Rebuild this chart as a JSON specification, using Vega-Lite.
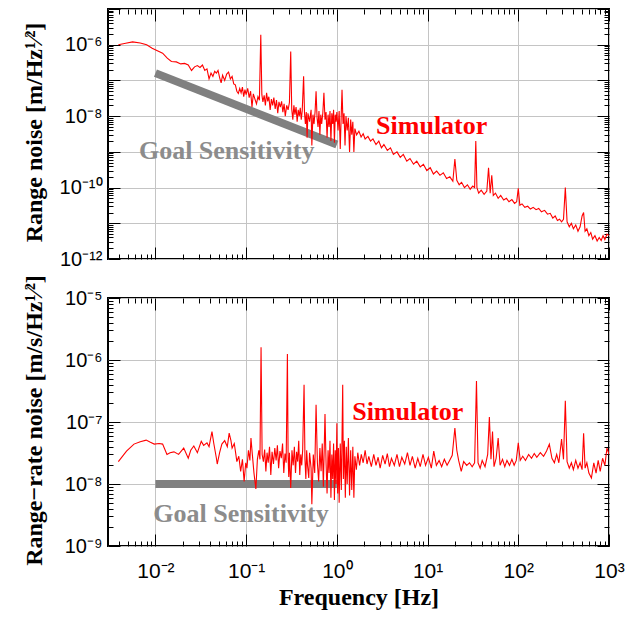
{
  "$schema": "https://vega.github.io/schema/vega-lite/v6.json",
  "padding": {"left": 20, "top": -2, "right": 20, "bottom": 5},
  "background": "white",
  "bounds": "flush",
  "spacing": 39,
  "config": {
    "view": {"stroke": "black", "strokeWidth": 2},
    "axis": {
      "domain": false,
      "tickColor": "black",
      "tickWidth": 1,
      "gridColor": "#c4c4c4",
      "gridWidth": 1,
      "labelFont": "Liberation Sans",
      "labelFontSize": 20,
      "labelColor": "black",
      "labelOverlap": false,
      "labelBound": false,
      "labelFlush": false,
      "titleFont": "Liberation Serif",
      "titleFontWeight": "bold",
      "titleFontSize": 24,
      "titleColor": "black"
    }
  },
  "datasets": {
    "simTop": [
      {"f":0.0039,"v":1.0e-6},{"f":0.0047,"v":1.1e-6},{"f":0.0056,"v":1.2e-6},{"f":0.0068,"v":1.12e-6},{"f":0.008,"v":1.0e-6},{"f":0.0092,"v":8e-7},{"f":0.0105,"v":6.8e-7},{"f":0.012,"v":5.8e-7},{"f":0.0135,"v":4.2e-7},{"f":0.015,"v":3.4e-7},{"f":0.017,"v":3.3e-7},{"f":0.019,"v":2.9e-7},{"f":0.021,"v":3.0e-7},{"f":0.023,"v":2.7e-7},{"f":0.025,"v":1.9e-7},{"f":0.027,"v":2.4e-7},{"f":0.029,"v":2.6e-7},{"f":0.031,"v":2.3e-7},{"f":0.033,"v":2.7e-7},{"f":0.035,"v":1.9e-7},{"f":0.037,"v":2.1e-7},{"f":0.039,"v":1.1e-7},{"f":0.041,"v":1.6e-7},{"f":0.043,"v":1.3e-7},{"f":0.045,"v":1.8e-7},{"f":0.047,"v":1.6e-7},{"f":0.049,"v":1.9e-7},{"f":0.051,"v":1.2e-7},{"f":0.053,"v":8.5e-8},{"f":0.055,"v":1.4e-7},{"f":0.058,"v":1.0e-7},{"f":0.061,"v":1.5e-7},{"f":0.064,"v":1.7e-7},{"f":0.067,"v":1.1e-7},{"f":0.07,"v":1.3e-7},{"f":0.073,"v":8e-8},{"f":0.076,"v":7.5e-8},{"f":0.079,"v":5e-8},{"f":0.082,"v":4.3e-8},{"f":0.085,"v":6e-8},{"f":0.088,"v":4.5e-8},{"f":0.091,"v":6.5e-8},{"f":0.094,"v":3.5e-8},{"f":0.097,"v":5.5e-8},{"f":0.1,"v":4e-8},{"f":0.104,"v":6e-8},{"f":0.108,"v":3.3e-8},{"f":0.112,"v":5e-8},{"f":0.116,"v":1.8e-8},{"f":0.12,"v":4.2e-8},{"f":0.125,"v":3e-8},{"f":0.13,"v":2.2e-8},{"f":0.135,"v":3.5e-8},{"f":0.14,"v":2.8e-8},{"f":0.145,"v":1.9e-6},{"f":0.149,"v":4e-8},{"f":0.153,"v":2.5e-8},{"f":0.158,"v":3.8e-8},{"f":0.163,"v":2.0e-8},{"f":0.168,"v":4.5e-8},{"f":0.173,"v":2.6e-8},{"f":0.178,"v":3.5e-8},{"f":0.184,"v":1.5e-8},{"f":0.19,"v":3e-8},{"f":0.196,"v":2e-8},{"f":0.202,"v":3.3e-8},{"f":0.209,"v":1.6e-8},{"f":0.216,"v":2.8e-8},{"f":0.223,"v":1.2e-8},{"f":0.23,"v":2.5e-8},{"f":0.238,"v":1.8e-8},{"f":0.246,"v":2.6e-8},{"f":0.254,"v":1.3e-8},{"f":0.262,"v":2.2e-8},{"f":0.27,"v":1e-8},{"f":0.28,"v":2e-8},{"f":0.29,"v":1.5e-8},{"f":0.3,"v":2.4e-8},{"f":0.31,"v":6.5e-7},{"f":0.318,"v":1.6e-8},{"f":0.327,"v":8e-9},{"f":0.336,"v":2e-8},{"f":0.345,"v":1.1e-8},{"f":0.355,"v":1.8e-8},{"f":0.365,"v":7e-9},{"f":0.375,"v":1.5e-8},{"f":0.385,"v":1e-8},{"f":0.395,"v":1.7e-8},{"f":0.405,"v":8e-9},{"f":0.415,"v":1.4e-8},{"f":0.43,"v":1.3e-7},{"f":0.44,"v":1.2e-8},{"f":0.45,"v":6e-9},{"f":0.46,"v":1.3e-8},{"f":0.47,"v":2.5e-9},{"f":0.48,"v":1.2e-8},{"f":0.5,"v":7e-9},{"f":0.52,"v":1.5e-8},{"f":0.53,"v":1.5e-9},{"f":0.545,"v":1.1e-8},{"f":0.56,"v":6e-9},{"f":0.575,"v":1.3e-8},{"f":0.59,"v":5e-8},{"f":0.605,"v":9e-9},{"f":0.62,"v":5e-9},{"f":0.635,"v":1.4e-8},{"f":0.65,"v":3e-9},{"f":0.665,"v":1.1e-8},{"f":0.68,"v":6e-9},{"f":0.7,"v":1.2e-8},{"f":0.72,"v":4.5e-8},{"f":0.74,"v":8e-9},{"f":0.76,"v":1.3e-8},{"f":0.78,"v":2.5e-9},{"f":0.8,"v":1.1e-8},{"f":0.82,"v":5e-9},{"f":0.84,"v":1.4e-8},{"f":0.86,"v":2e-9},{"f":0.88,"v":1.2e-8},{"f":0.9,"v":6e-9},{"f":0.92,"v":1.5e-8},{"f":0.94,"v":1.8e-9},{"f":0.96,"v":1.1e-8},{"f":0.98,"v":7e-9},{"f":1.0,"v":1.3e-8},{"f":1.03,"v":4e-9},{"f":1.06,"v":1.4e-8},{"f":1.09,"v":1.2e-9},{"f":1.12,"v":1.3e-8},{"f":1.14,"v":5.5e-8},{"f":1.17,"v":6e-9},{"f":1.2,"v":1.2e-8},{"f":1.23,"v":1.5e-9},{"f":1.26,"v":1.0e-8},{"f":1.3,"v":4e-9},{"f":1.34,"v":9e-9},{"f":1.38,"v":1e-9},{"f":1.42,"v":8e-9},{"f":1.46,"v":3e-9},{"f":1.5,"v":7e-9},{"f":1.54,"v":1.0e-9},{"f":1.58,"v":4.5e-9},{"f":1.65,"v":3e-9},{"f":1.75,"v":3.8e-9},{"f":1.85,"v":2.6e-9},{"f":1.95,"v":3.2e-9},{"f":2.05,"v":2.3e-9},{"f":2.2,"v":2.7e-9},{"f":2.35,"v":2e-9},{"f":2.5,"v":2.3e-9},{"f":2.7,"v":1.6e-9},{"f":2.9,"v":2e-9},{"f":3.1,"v":1.3e-9},{"f":3.3,"v":1.6e-9},{"f":3.6,"v":1.1e-9},{"f":3.9,"v":1.3e-9},{"f":4.2,"v":8.5e-10},{"f":4.6,"v":1.0e-9},{"f":5.0,"v":7e-10},{"f":5.4,"v":8.5e-10},{"f":5.9,"v":5.5e-10},{"f":6.4,"v":6.5e-10},{"f":7.0,"v":4.5e-10},{"f":7.6,"v":5.5e-10},{"f":8.3,"v":3.8e-10},{"f":9.0,"v":4.5e-10},{"f":9.8,"v":3e-10},{"f":10.7,"v":3.6e-10},{"f":11.6,"v":2.4e-10},{"f":12.6,"v":2.9e-10},{"f":13.7,"v":2.2e-10},{"f":14.9,"v":2.6e-10},{"f":16.2,"v":1.8e-10},{"f":17.6,"v":2e-10},{"f":19.0,"v":1.5e-10},{"f":20.0,"v":6.3e-10},{"f":21.0,"v":1.6e-10},{"f":22.3,"v":1.2e-10},{"f":23.7,"v":1.4e-10},{"f":25.5,"v":1.0e-10},{"f":27.5,"v":1.2e-10},{"f":29.5,"v":9e-11},{"f":31.5,"v":1.1e-10},{"f":33,"v":1.0e-10},{"f":34,"v":2e-9},{"f":35,"v":1.0e-10},{"f":36.6,"v":7e-11},{"f":39,"v":8.5e-11},{"f":42,"v":6.5e-11},{"f":45,"v":8e-11},{"f":47,"v":3.6e-10},{"f":49,"v":7e-11},{"f":51,"v":2.2e-10},{"f":53,"v":6e-11},{"f":56,"v":7e-11},{"f":60,"v":5e-11},{"f":64,"v":6e-11},{"f":69,"v":4.5e-11},{"f":74,"v":5e-11},{"f":79,"v":4e-11},{"f":85,"v":4.6e-11},{"f":91,"v":3.6e-11},{"f":96,"v":4e-11},{"f":100,"v":9.5e-11},{"f":104,"v":3.2e-11},{"f":110,"v":3.5e-11},{"f":118,"v":2.8e-11},{"f":127,"v":3e-11},{"f":136,"v":2.5e-11},{"f":146,"v":2.8e-11},{"f":157,"v":2.4e-11},{"f":168,"v":2.6e-11},{"f":180,"v":2.1e-11},{"f":195,"v":2.3e-11},{"f":210,"v":1.8e-11},{"f":225,"v":1.9e-11},{"f":240,"v":1.4e-11},{"f":255,"v":1.6e-11},{"f":270,"v":1.2e-11},{"f":285,"v":1.3e-11},{"f":300,"v":1.1e-11},{"f":315,"v":1.3e-11},{"f":330,"v":1e-10},{"f":345,"v":1.1e-11},{"f":365,"v":8e-12},{"f":385,"v":1e-11},{"f":405,"v":7e-12},{"f":430,"v":9e-12},{"f":455,"v":6e-12},{"f":480,"v":8e-12},{"f":505,"v":1.6e-11},{"f":525,"v":2e-11},{"f":545,"v":6e-12},{"f":570,"v":7e-12},{"f":600,"v":4.5e-12},{"f":630,"v":5.5e-12},{"f":660,"v":3.6e-12},{"f":700,"v":4.5e-12},{"f":740,"v":3.2e-12},{"f":780,"v":4e-12},{"f":820,"v":3.3e-12},{"f":860,"v":4.5e-12},{"f":900,"v":3.5e-12},{"f":950,"v":5e-12},{"f":1000,"v":4.5e-12}
    ],
    "simBot": [
      {"f":0.0039,"v":2.3e-8},{"f":0.0048,"v":3.4e-8},{"f":0.0058,"v":4.4e-8},{"f":0.0068,"v":4.8e-8},{"f":0.0079,"v":5.1e-8},{"f":0.0088,"v":4.7e-8},{"f":0.0097,"v":4.4e-8},{"f":0.011,"v":4.5e-8},{"f":0.012,"v":4.4e-8},{"f":0.0134,"v":3.0e-8},{"f":0.0145,"v":3.2e-8},{"f":0.016,"v":3.3e-8},{"f":0.018,"v":3.0e-8},{"f":0.0205,"v":3.8e-8},{"f":0.023,"v":2.6e-8},{"f":0.0245,"v":3.5e-8},{"f":0.0265,"v":4.1e-8},{"f":0.029,"v":3.2e-8},{"f":0.032,"v":4.9e-8},{"f":0.034,"v":4.2e-8},{"f":0.037,"v":4.6e-8},{"f":0.039,"v":4.0e-8},{"f":0.042,"v":7e-8},{"f":0.044,"v":4.5e-8},{"f":0.047,"v":2.6e-8},{"f":0.048,"v":2.1e-8},{"f":0.051,"v":3.2e-8},{"f":0.054,"v":4.4e-8},{"f":0.058,"v":5e-8},{"f":0.062,"v":4e-8},{"f":0.065,"v":6.6e-8},{"f":0.068,"v":5e-8},{"f":0.07,"v":3.8e-8},{"f":0.074,"v":4.5e-8},{"f":0.077,"v":3e-8},{"f":0.079,"v":2.3e-8},{"f":0.083,"v":2.8e-8},{"f":0.087,"v":1.6e-8},{"f":0.091,"v":2.5e-8},{"f":0.095,"v":1.1e-8},{"f":0.099,"v":2.2e-8},{"f":0.102,"v":1.8e-8},{"f":0.106,"v":3.5e-8},{"f":0.11,"v":2.4e-8},{"f":0.113,"v":5.5e-8},{"f":0.117,"v":3e-8},{"f":0.122,"v":1.5e-8},{"f":0.128,"v":8.3e-9},{"f":0.133,"v":2.5e-8},{"f":0.138,"v":3.5e-8},{"f":0.142,"v":2.5e-8},{"f":0.146,"v":1.6e-6},{"f":0.15,"v":3e-8},{"f":0.155,"v":2.3e-8},{"f":0.16,"v":3.6e-8},{"f":0.165,"v":1.6e-8},{"f":0.17,"v":3.2e-8},{"f":0.175,"v":2.2e-8},{"f":0.181,"v":4e-8},{"f":0.187,"v":1.4e-8},{"f":0.193,"v":3.3e-8},{"f":0.2,"v":2.1e-8},{"f":0.207,"v":3.8e-8},{"f":0.214,"v":2.4e-8},{"f":0.221,"v":4.2e-8},{"f":0.228,"v":1.8e-8},{"f":0.236,"v":3.4e-8},{"f":0.244,"v":2.6e-8},{"f":0.252,"v":4.5e-8},{"f":0.26,"v":1.5e-8},{"f":0.268,"v":3.1e-8},{"f":0.276,"v":2.2e-8},{"f":0.285,"v":1.25e-6},{"f":0.29,"v":2.8e-8},{"f":0.295,"v":1.3e-8},{"f":0.3,"v":3.2e-8},{"f":0.31,"v":8.6e-9},{"f":0.32,"v":3.5e-8},{"f":0.33,"v":2e-8},{"f":0.34,"v":4e-8},{"f":0.35,"v":1.5e-8},{"f":0.36,"v":3.3e-8},{"f":0.37,"v":2.3e-8},{"f":0.38,"v":5e-8},{"f":0.39,"v":1.4e-8},{"f":0.4,"v":3e-8},{"f":0.41,"v":2e-8},{"f":0.42,"v":3.6e-8},{"f":0.435,"v":4e-7},{"f":0.445,"v":2.5e-8},{"f":0.455,"v":1.2e-8},{"f":0.465,"v":3.5e-8},{"f":0.475,"v":2e-8},{"f":0.49,"v":1.25e-8},{"f":0.5,"v":3.2e-8},{"f":0.52,"v":1.8e-8},{"f":0.53,"v":4.7e-9},{"f":0.55,"v":3e-8},{"f":0.57,"v":1.5e-8},{"f":0.59,"v":1.9e-7},{"f":0.61,"v":2.2e-8},{"f":0.63,"v":1.1e-8},{"f":0.65,"v":3.8e-8},{"f":0.67,"v":1.6e-8},{"f":0.69,"v":4.5e-8},{"f":0.71,"v":9e-9},{"f":0.74,"v":1.35e-7},{"f":0.76,"v":2.2e-8},{"f":0.78,"v":7e-9},{"f":0.8,"v":3.5e-8},{"f":0.82,"v":1.5e-8},{"f":0.84,"v":5e-8},{"f":0.86,"v":6e-9},{"f":0.88,"v":3e-8},{"f":0.9,"v":1.2e-8},{"f":0.92,"v":4.5e-8},{"f":0.94,"v":5.5e-9},{"f":0.96,"v":3.5e-8},{"f":0.98,"v":1e-8},{"f":1.0,"v":9.5e-8},{"f":1.02,"v":7e-9},{"f":1.04,"v":3.8e-8},{"f":1.06,"v":5e-9},{"f":1.09,"v":4.5e-8},{"f":1.12,"v":8e-9},{"f":1.16,"v":4e-7},{"f":1.18,"v":1.2e-8},{"f":1.21,"v":5e-8},{"f":1.24,"v":6e-9},{"f":1.27,"v":4e-8},{"f":1.3,"v":1e-8},{"f":1.34,"v":5.5e-8},{"f":1.38,"v":6.5e-9},{"f":1.42,"v":3.5e-8},{"f":1.46,"v":8e-9},{"f":1.5,"v":4e-8},{"f":1.54,"v":6e-9},{"f":1.58,"v":2.8e-8},{"f":1.64,"v":1.7e-8},{"f":1.7,"v":3.2e-8},{"f":1.78,"v":2e-8},{"f":1.86,"v":3e-8},{"f":1.95,"v":2.2e-8},{"f":2.05,"v":3.5e-8},{"f":2.15,"v":2.1e-8},{"f":2.25,"v":2.8e-8},{"f":2.4,"v":1.9e-8},{"f":2.55,"v":3e-8},{"f":2.7,"v":2e-8},{"f":2.85,"v":2.7e-8},{"f":3.0,"v":1.8e-8},{"f":3.2,"v":2.9e-8},{"f":3.4,"v":2.1e-8},{"f":3.6,"v":3.1e-8},{"f":3.8,"v":1.9e-8},{"f":4.0,"v":2.6e-8},{"f":4.3,"v":2e-8},{"f":4.6,"v":3e-8},{"f":4.9,"v":1.9e-8},{"f":5.2,"v":2.7e-8},{"f":5.6,"v":2.1e-8},{"f":6.0,"v":3.2e-8},{"f":6.4,"v":2e-8},{"f":6.8,"v":2.8e-8},{"f":7.3,"v":1.8e-8},{"f":7.8,"v":2.6e-8},{"f":8.3,"v":1.9e-8},{"f":8.9,"v":3e-8},{"f":9.5,"v":2e-8},{"f":10.2,"v":2.7e-8},{"f":11.0,"v":1.8e-8},{"f":11.7,"v":3.4e-8},{"f":12.5,"v":2e-8},{"f":13.4,"v":2.4e-8},{"f":14.3,"v":1.9e-8},{"f":15.3,"v":2.5e-8},{"f":16.4,"v":2.0e-8},{"f":17.5,"v":2.4e-8},{"f":18.7,"v":2.9e-8},{"f":20,"v":8e-8},{"f":21,"v":3.5e-8},{"f":22,"v":2.4e-8},{"f":23.5,"v":1.6e-8},{"f":25,"v":2.3e-8},{"f":27,"v":2e-8},{"f":29,"v":2.2e-8},{"f":31,"v":1.9e-8},{"f":33,"v":2.2e-8},{"f":34.6,"v":4.6e-7},{"f":36,"v":2.2e-8},{"f":38,"v":1.8e-8},{"f":40,"v":2.4e-8},{"f":43,"v":1.9e-8},{"f":46,"v":3e-8},{"f":48,"v":1.2e-7},{"f":50,"v":2.5e-8},{"f":52,"v":7e-8},{"f":54,"v":1.9e-8},{"f":57,"v":2.6e-8},{"f":60,"v":5.5e-8},{"f":63,"v":2e-8},{"f":67,"v":2.5e-8},{"f":71,"v":1.9e-8},{"f":75,"v":2.4e-8},{"f":80,"v":2e-8},{"f":85,"v":2.5e-8},{"f":90,"v":2e-8},{"f":95,"v":2.4e-8},{"f":100,"v":4.6e-8},{"f":105,"v":2.4e-8},{"f":112,"v":2.8e-8},{"f":120,"v":2.4e-8},{"f":130,"v":3e-8},{"f":140,"v":2.6e-8},{"f":150,"v":3.1e-8},{"f":160,"v":2.7e-8},{"f":175,"v":3.2e-8},{"f":190,"v":2.8e-8},{"f":205,"v":3.4e-8},{"f":220,"v":4.4e-8},{"f":235,"v":2.6e-8},{"f":250,"v":2.2e-8},{"f":265,"v":3e-8},{"f":280,"v":2.2e-8},{"f":300,"v":5.3e-8},{"f":315,"v":2.5e-8},{"f":330,"v":2.2e-7},{"f":345,"v":2.3e-8},{"f":365,"v":1.8e-8},{"f":385,"v":2.2e-8},{"f":405,"v":1.7e-8},{"f":430,"v":2.4e-8},{"f":455,"v":1.8e-8},{"f":480,"v":2.2e-8},{"f":505,"v":1.7e-8},{"f":525,"v":6.6e-8},{"f":545,"v":1.8e-8},{"f":570,"v":2.2e-8},{"f":600,"v":1.5e-8},{"f":640,"v":1.25e-8},{"f":680,"v":2.2e-8},{"f":720,"v":1.5e-8},{"f":760,"v":2.4e-8},{"f":800,"v":1.6e-8},{"f":850,"v":2.6e-8},{"f":900,"v":2e-8},{"f":950,"v":3.8e-8},{"f":1000,"v":3e-8}
    ]
  },
  "vconcat": [
    {
      "width": 501,
      "height": 250,
      "layer": [
        {
          "data": {"values": [{"f": 0.01, "v": 1.6e-7}, {"f": 1, "v": 1.6e-9}]},
          "mark": {"type": "line", "color": "#808080", "strokeWidth": 8, "strokeCap": "butt", "clip": true},
          "encoding": {
            "x": {"field": "f", "type": "quantitative", "scale": {"type": "log", "domain": [0.003, 1000], "nice": false},
              "axis": {"orient": "top", "values": [0.01, 0.1, 1, 10, 100, 1000], "tickSize": -12, "labels": false, "grid": false, "title": null}},
            "y": {"field": "v", "type": "quantitative", "scale": {"type": "log", "domain": [1e-12, 1e-5], "nice": false},
              "axis": {"orient": "right", "values": [1e-12, 1e-11, 1e-10, 1e-9, 1e-8, 1e-7, 1e-6, 1e-5], "tickSize": -12, "labels": false, "grid": false, "title": null}}
          }
        },
        {
          "data": {"name": "simTop"},
          "mark": {"type": "line", "color": "#ff0000", "strokeWidth": 1.1, "clip": true},
          "encoding": {
            "x": {"field": "f", "type": "quantitative", "scale": {"type": "log", "domain": [0.003, 1000], "nice": false},
              "axis": {"orient": "bottom", "values": [0.01, 0.1, 1, 10, 100, 1000], "tickSize": -12, "labels": false, "grid": true, "title": null}},
            "y": {"field": "v", "type": "quantitative", "scale": {"type": "log", "domain": [1e-12, 1e-5], "nice": false},
              "axis": {"orient": "left", "values": [1e-12, 1e-11, 1e-10, 1e-9, 1e-8, 1e-7, 1e-6, 1e-5], "tickSize": -12, "labelPadding": 18, "grid": true,
                "labelExpr": "['10⁻¹²','','10⁻¹⁰','','10⁻⁸','','10⁻⁶',''][round(log(datum.value)/LN10)+12]",
                "title": "Range noise [m/Hz¹⁄²]", "titleX": -62, "titleY": 123}}
          }
        },
        {
          "data": {"values": [{"f": 0.061, "v": 1.07e-9, "t": "Goal Sensitivity"}]},
          "mark": {"type": "text", "color": "#8c8c8c", "font": "Liberation Serif", "fontWeight": "bold", "fontSize": 26, "align": "center", "baseline": "middle"},
          "encoding": {
            "x": {"field": "f", "type": "quantitative", "scale": {"type": "log", "domain": [0.003, 1000], "nice": false},
              "axis": {"orient": "bottom", "values": [0.004,0.005,0.006,0.007,0.008,0.009,0.02,0.03,0.04,0.05,0.06,0.07,0.08,0.09,0.2,0.3,0.4,0.5,0.6,0.7,0.8,0.9,2,3,4,5,6,7,8,9,20,30,40,50,60,70,80,90,200,300,400,500,600,700,800,900], "tickSize": -5, "labels": false, "grid": false, "title": null}},
            "y": {"field": "v", "type": "quantitative", "scale": {"type": "log", "domain": [1e-12, 1e-5], "nice": false},
              "axis": {"orient": "left", "values": [2e-12,3e-12,4e-12,5e-12,6e-12,7e-12,8e-12,9e-12,2e-11,3e-11,4e-11,5e-11,6e-11,7e-11,8e-11,9e-11,2e-10,3e-10,4e-10,5e-10,6e-10,7e-10,8e-10,9e-10,2e-9,3e-9,4e-9,5e-9,6e-9,7e-9,8e-9,9e-9,2e-8,3e-8,4e-8,5e-8,6e-8,7e-8,8e-8,9e-8,2e-7,3e-7,4e-7,5e-7,6e-7,7e-7,8e-7,9e-7,2e-6,3e-6,4e-6,5e-6,6e-6,7e-6,8e-6,9e-6], "tickSize": -5, "labels": false, "grid": false, "title": null}},
            "text": {"field": "t"}
          }
        },
        {
          "data": {"values": [{"f": 11.1, "v": 5.2e-9, "t": "Simulator"}]},
          "mark": {"type": "text", "color": "#ff0000", "font": "Liberation Serif", "fontWeight": "bold", "fontSize": 26, "align": "center", "baseline": "middle"},
          "encoding": {
            "x": {"field": "f", "type": "quantitative", "scale": {"type": "log", "domain": [0.003, 1000], "nice": false},
              "axis": {"orient": "top", "values": [0.004,0.005,0.006,0.007,0.008,0.009,0.02,0.03,0.04,0.05,0.06,0.07,0.08,0.09,0.2,0.3,0.4,0.5,0.6,0.7,0.8,0.9,2,3,4,5,6,7,8,9,20,30,40,50,60,70,80,90,200,300,400,500,600,700,800,900], "tickSize": -5, "labels": false, "grid": false, "title": null}},
            "y": {"field": "v", "type": "quantitative", "scale": {"type": "log", "domain": [1e-12, 1e-5], "nice": false},
              "axis": {"orient": "right", "values": [2e-12,3e-12,4e-12,5e-12,6e-12,7e-12,8e-12,9e-12,2e-11,3e-11,4e-11,5e-11,6e-11,7e-11,8e-11,9e-11,2e-10,3e-10,4e-10,5e-10,6e-10,7e-10,8e-10,9e-10,2e-9,3e-9,4e-9,5e-9,6e-9,7e-9,8e-9,9e-9,2e-8,3e-8,4e-8,5e-8,6e-8,7e-8,8e-8,9e-8,2e-7,3e-7,4e-7,5e-7,6e-7,7e-7,8e-7,9e-7,2e-6,3e-6,4e-6,5e-6,6e-6,7e-6,8e-6,9e-6], "tickSize": -5, "labels": false, "grid": false, "title": null}},
            "text": {"field": "t"}
          }
        }
      ],
      "resolve": {"axis": {"x": "independent", "y": "independent"}}
    },
    {
      "width": 501,
      "height": 248,
      "layer": [
        {
          "data": {"values": [{"f": 0.01, "v": 1e-8}, {"f": 1, "v": 1e-8}]},
          "mark": {"type": "line", "color": "#808080", "strokeWidth": 8, "strokeCap": "butt", "clip": true},
          "encoding": {
            "x": {"field": "f", "type": "quantitative", "scale": {"type": "log", "domain": [0.003, 1000], "nice": false},
              "axis": {"orient": "top", "values": [0.01, 0.1, 1, 10, 100, 1000], "tickSize": -12, "labels": false, "grid": false, "title": null}},
            "y": {"field": "v", "type": "quantitative", "scale": {"type": "log", "domain": [1e-9, 1e-5], "nice": false},
              "axis": {"orient": "right", "values": [1e-9, 1e-8, 1e-7, 1e-6, 1e-5], "tickSize": -12, "labels": false, "grid": false, "title": null}}
          }
        },
        {
          "data": {"name": "simBot"},
          "mark": {"type": "line", "color": "#ff0000", "strokeWidth": 1.1, "clip": true},
          "encoding": {
            "x": {"field": "f", "type": "quantitative", "scale": {"type": "log", "domain": [0.003, 1000], "nice": false},
              "axis": {"orient": "bottom", "values": [0.01, 0.1, 1, 10, 100, 1000], "tickSize": -12, "labelPadding": 26, "grid": true,
                "labelExpr": "['10⁻²','10⁻¹','10⁰','10¹','10²','10³'][round(log(datum.value)/LN10)+2]",
                "labelFontSize": 21, "title": "Frequency [Hz]", "titlePadding": 4}},
            "y": {"field": "v", "type": "quantitative", "scale": {"type": "log", "domain": [1e-9, 1e-5], "nice": false},
              "axis": {"orient": "left", "values": [1e-9, 1e-8, 1e-7, 1e-6, 1e-5], "tickSize": -12, "labelPadding": 18, "grid": true,
                "labelExpr": "['10⁻⁹','10⁻⁸','10⁻⁷','10⁻⁶','10⁻⁵'][round(log(datum.value)/LN10)+9]",
                "title": "Range−rate noise [m/s/Hz¹⁄²]", "titleX": -62, "titleY": 122}}
          }
        },
        {
          "data": {"values": [{"f": 0.0877, "v": 3.3e-9, "t": "Goal Sensitivity"}]},
          "mark": {"type": "text", "color": "#8c8c8c", "font": "Liberation Serif", "fontWeight": "bold", "fontSize": 26, "align": "center", "baseline": "middle"},
          "encoding": {
            "x": {"field": "f", "type": "quantitative", "scale": {"type": "log", "domain": [0.003, 1000], "nice": false},
              "axis": {"orient": "bottom", "values": [0.004,0.005,0.006,0.007,0.008,0.009,0.02,0.03,0.04,0.05,0.06,0.07,0.08,0.09,0.2,0.3,0.4,0.5,0.6,0.7,0.8,0.9,2,3,4,5,6,7,8,9,20,30,40,50,60,70,80,90,200,300,400,500,600,700,800,900], "tickSize": -5, "labels": false, "grid": false, "title": null}},
            "y": {"field": "v", "type": "quantitative", "scale": {"type": "log", "domain": [1e-9, 1e-5], "nice": false},
              "axis": {"orient": "left", "values": [2e-9,3e-9,4e-9,5e-9,6e-9,7e-9,8e-9,9e-9,2e-8,3e-8,4e-8,5e-8,6e-8,7e-8,8e-8,9e-8,2e-7,3e-7,4e-7,5e-7,6e-7,7e-7,8e-7,9e-7,2e-6,3e-6,4e-6,5e-6,6e-6,7e-6,8e-6,9e-6], "tickSize": -5, "labels": false, "grid": false, "title": null}},
            "text": {"field": "t"}
          }
        },
        {
          "data": {"values": [{"f": 6.05, "v": 1.44e-7, "t": "Simulator"}]},
          "mark": {"type": "text", "color": "#ff0000", "font": "Liberation Serif", "fontWeight": "bold", "fontSize": 26, "align": "center", "baseline": "middle"},
          "encoding": {
            "x": {"field": "f", "type": "quantitative", "scale": {"type": "log", "domain": [0.003, 1000], "nice": false},
              "axis": {"orient": "top", "values": [0.004,0.005,0.006,0.007,0.008,0.009,0.02,0.03,0.04,0.05,0.06,0.07,0.08,0.09,0.2,0.3,0.4,0.5,0.6,0.7,0.8,0.9,2,3,4,5,6,7,8,9,20,30,40,50,60,70,80,90,200,300,400,500,600,700,800,900], "tickSize": -5, "labels": false, "grid": false, "title": null}},
            "y": {"field": "v", "type": "quantitative", "scale": {"type": "log", "domain": [1e-9, 1e-5], "nice": false},
              "axis": {"orient": "right", "values": [2e-9,3e-9,4e-9,5e-9,6e-9,7e-9,8e-9,9e-9,2e-8,3e-8,4e-8,5e-8,6e-8,7e-8,8e-8,9e-8,2e-7,3e-7,4e-7,5e-7,6e-7,7e-7,8e-7,9e-7,2e-6,3e-6,4e-6,5e-6,6e-6,7e-6,8e-6,9e-6], "tickSize": -5, "labels": false, "grid": false, "title": null}},
            "text": {"field": "t"}
          }
        }
      ],
      "resolve": {"axis": {"x": "independent", "y": "independent"}}
    }
  ]
}
